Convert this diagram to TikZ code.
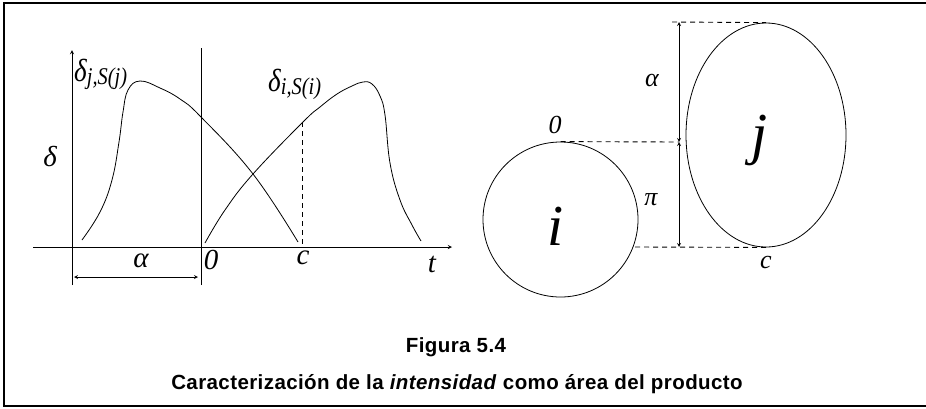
\documentclass[tikz,border=0pt]{standalone}
\usepackage{fontspec}
\setmainfont{Liberation Serif}
\newfontfamily\capfont[LetterSpace=2]{Liberation Sans}
\usetikzlibrary{shapes.geometric}
\begin{document}
\begin{tikzpicture}[
    x=1pt, y=-1pt,
    axis/.style={->, >=stealth, line width=0.9pt},
    curve/.style={line width=0.8pt},
    arrow/.style={<->, >=stealth, line width=0.8pt},
    guide/.style={dash pattern=on 5pt off 4pt, line width=0.9pt},
    lbl/.style={font=\itshape\fontsize{29}{30}\selectfont, inner sep=0pt},
    fn/.style={font=\itshape\fontsize{32}{32}\selectfont, inner sep=0pt},
    small/.style={font=\itshape\fontsize{26}{26}\selectfont, inner sep=0pt},
    big/.style={font=\itshape\fontsize{58}{58}\selectfont, inner sep=0pt},
    caption/.style={font=\capfont\bfseries\fontsize{20.5}{22}\selectfont, inner sep=0pt, anchor=base}
]
    \useasboundingbox (0,0) rectangle (926,408);
    % Frame
    \draw[line width=1.2pt] (926,3) -- (4,3) -- (4,406) -- (926,406);

    % Axes
    \coordinate (tstart) at (33,247);
    \coordinate (tend) at (452,247);
    \coordinate (dbot) at (72,285);
    \coordinate (dtop) at (72,50);
    \coordinate (zbot) at (201,285);
    \coordinate (ztop) at (201,48);
    \draw[axis] (tstart) -- (tend);
    \draw[axis] (dbot) -- (dtop);
    \draw[line width=0.9pt] (zbot) -- (ztop);

    % Shift alpha
    \coordinate (aleft) at (74,277);
    \coordinate (aright) at (198,277);
    \draw[arrow] (aleft) -- (aright);

    % Curves
    \draw[curve] plot[smooth, tension=0.7] coordinates {(82,240) (100,212) (112,180) (119,142) (123,112) (128,90) (140,81) (160,88) (180,99) (201,117) (253,174) (298,242)};
    \draw[curve] plot[smooth, tension=0.7] coordinates {(205,243) (225,210) (253,174) (303,122) (320,107) (337,94) (352,86) (363,82) (372,84) (380,96) (385,115) (390,163) (400,200) (412,225) (421,241)};

    % Dashed mark at c
    \coordinate (ctop) at (302,122);
    \coordinate (cbot) at (302,247);
    \draw[guide] (ctop) -- (cbot);

    % Labels left
    \node[lbl] (delta) at (50,157) {δ};
    \node[lbl] (alpha1) at (141,261) {α};
    \node[lbl] (zero1) at (211,260) {0};
    \node[lbl] (c1) at (303,258) {c};
    \node[lbl] (t1) at (432,264) {t};
    \node[fn, anchor=west] (dj) at (74,74) {\scalebox{0.85}[1]{δ\raisebox{-3pt}{\fontsize{24}{24}\selectfont j,S(j)}}};
    \node[fn, anchor=west] (di) at (268,84) {\scalebox{0.85}[1]{δ\raisebox{-3pt}{\fontsize{24}{24}\selectfont i,S(i)}}};

    % Products
    \node[circle, draw, line width=0.8pt, minimum size=155pt, inner sep=0pt] (ci) at (560.5,219.5) {};
    \node[ellipse, draw, line width=0.8pt, minimum width=160pt, minimum height=224pt, inner sep=0pt] (ej) at (766,135) {};
    \node[big] (iname) at (556,226) {i};
    \node[big] (jname) at (760,140) {j};

    % Dimensions
    \coordinate (atop) at (679,22);
    \coordinate (amid) at (679,142);
    \coordinate (abot) at (679,247);
    \coordinate (gtop) at (672,22);
    \coordinate (gbot) at (635,247);
    \draw[arrow] (atop) -- (amid);
    \draw[arrow] (amid) -- (abot);
    \draw[guide] (gtop) -- (ej.north);
    \draw[guide] (ci.north) -- (amid);
    \draw[guide] (gbot) -- (ej.south);

    \node[small] (alpha2) at (652,80) {α};
    \node[small] (zero2) at (555,125) {0};
    \node[small] (pi) at (651,200) {π};
    \node[small] (c2) at (766,262) {c};

    % Caption
    \node[caption] (fig) at (456,352) {Figura 5.4};
    \node[caption] (title) at (457,389) {Caracterización de la \textit{intensidad} como área del producto};
\end{tikzpicture}
\end{document}
